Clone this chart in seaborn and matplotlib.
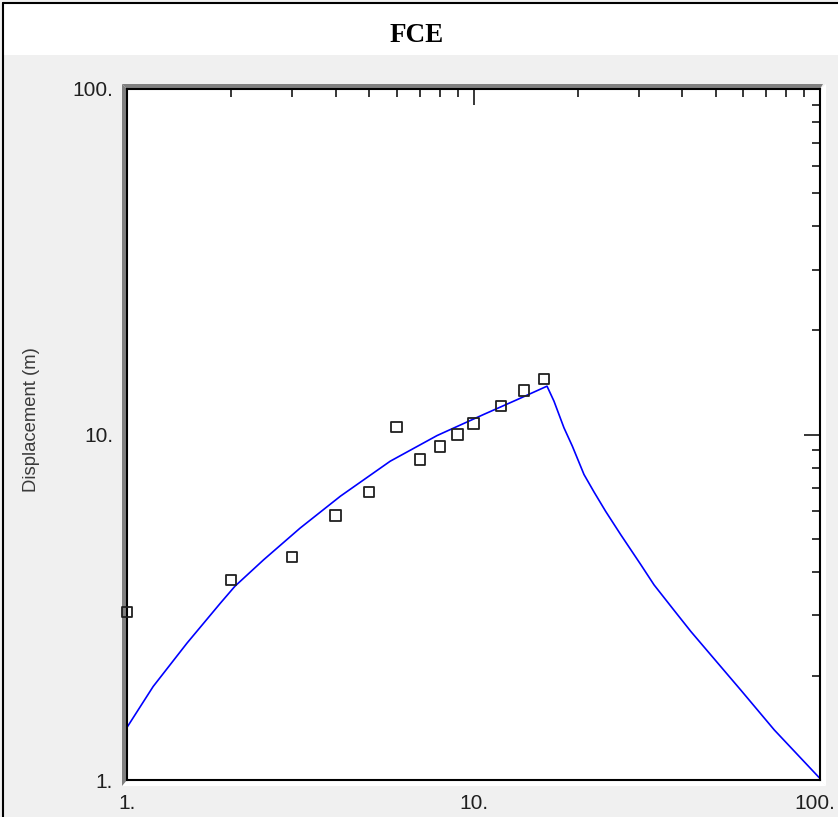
import matplotlib
matplotlib.use('Agg')
import matplotlib.pyplot as plt
import matplotlib.ticker as mticker
import matplotlib.transforms as mtransforms
from matplotlib.patches import Polygon
from matplotlib.lines import Line2D
import pandas as pd
import seaborn as sns

# === DATA ===
period_obs = [1, 2, 3, 4, 5, 6, 7, 8, 9, 10, 12, 14, 16]
disp_obs = [3.07, 3.80, 4.43, 5.83, 6.83, 10.5, 8.46, 9.23, 10.0, 10.76, 12.1, 13.4, 14.5]

period_fit = [1.0, 1.19, 1.49, 1.86, 2.05, 2.48, 3.16, 4.13, 5.75, 7.85, 10.7, 13.4, 16.3,
              17.07, 18.24, 19.29, 20.84, 22.27, 24.07, 26.6, 30.4, 33.2, 37.9, 42.4,
              47.9, 59.1, 73.8, 100.0]
disp_fit = [1.42, 1.865, 2.49, 3.25, 3.64, 4.34, 5.36, 6.63, 8.37, 9.93, 11.43, 12.63, 13.8,
            12.49, 10.46, 9.25, 7.66, 6.82, 5.99, 5.13, 4.20, 3.67, 3.10, 2.69,
            2.33, 1.82, 1.396, 1.01]

TITLE = 'FCE'
YLABEL = 'Displacement (m)'

# === CONFIG ===
W, H = 838, 817
DPI = 100
BG_GRAY = '#f0f0f0'
BEVEL_GRAY = '#808080'
LINE_BLUE = '#0000ff'
TEXT_DARK = '#202020'

sns.set_style('white')
plt.rcParams['font.family'] = ['Liberation Sans', 'DejaVu Sans']

fig = plt.figure(figsize=(W / DPI, H / DPI), dpi=DPI, facecolor=BG_GRAY)


def px(x, y):
    return (x / W, 1 - y / H)


def poly(points, color):
    fig.patches.append(Polygon([px(*p) for p in points], closed=True,
                               transform=fig.transFigure, facecolor=color,
                               edgecolor='none', zorder=-1))


# window header and frame
poly([(4, 4), (W, 4), (W, 55), (4, 55)], 'white')
fig.lines.append(Line2D([3 / W, 3 / W], [0, 1 - 3 / H], transform=fig.transFigure,
                        color='black', linewidth=1.5))
fig.lines.append(Line2D([3 / W, 1], [1 - 3 / H, 1 - 3 / H], transform=fig.transFigure,
                        color='black', linewidth=1.5))

# 3D bevel around the plot area
poly([(820, 89), (826, 84), (826, 786), (820, 780)], 'white')
poly([(127, 780), (820, 780), (826, 786), (122, 786)], 'white')
poly([(122, 84), (823, 84), (820, 89), (127, 89)], BEVEL_GRAY)
poly([(122, 84), (127, 89), (127, 780), (122, 786)], BEVEL_GRAY)

fig.text(417 / W, 1 - 35 / H, TITLE, ha='center', va='center',
         family='Liberation Serif', fontweight='bold', fontsize=19.5, color='black')

ax = fig.add_axes([127 / W, 37 / H, 693 / W, 691 / H])
ax.set_facecolor('white')

fit_df = pd.DataFrame({'period': period_fit, 'disp': disp_fit})
obs_df = pd.DataFrame({'period': period_obs, 'disp': disp_obs})

sns.lineplot(data=fit_df, x='period', y='disp', color=LINE_BLUE, linewidth=1.2,
             estimator=None, ax=ax, zorder=2)
sns.scatterplot(data=obs_df, x='period', y='disp', marker='s', s=55,
                facecolor='none', edgecolor='#202020', linewidth=1.3, ax=ax,
                zorder=3, clip_on=False)

ax.set_xscale('log')
ax.set_yscale('log')
ax.set_xlim(1, 100)
ax.set_ylim(1, 100)
ax.set_xlabel('')
ax.set_ylabel('')

fmt = mticker.FuncFormatter(lambda v, pos: f'{int(round(v))}.')
for axis in (ax.xaxis, ax.yaxis):
    axis.set_major_locator(mticker.FixedLocator([1, 10, 100]))
    axis.set_minor_locator(mticker.LogLocator(base=10, subs=range(2, 10)))
    axis.set_major_formatter(fmt)
    axis.set_minor_formatter(mticker.NullFormatter())

ax.tick_params(which='both', direction='in', top=True, right=True,
               color='black', labelsize=15, labelcolor=TEXT_DARK, pad=10)
ax.tick_params(which='major', length=11.5, width=1.1)
ax.tick_params(which='minor', length=5.8, width=1.1)

for s in ax.spines.values():
    s.set_visible(True)
    s.set_color('black')
    s.set_linewidth(1.5)

# nudge the last x label so it stays inside the window edge
last = ax.xaxis.get_major_ticks(3)[-1].label1
last.set_transform(last.get_transform() +
                   mtransforms.ScaledTranslation(-5 / DPI, 0, fig.dpi_scale_trans))

fig.text(32 / W, 1 - 420 / H, YLABEL, rotation=90, ha='center', va='center',
         fontsize=13.3, color='#3a3a3a')

fig.savefig('out.png', dpi=DPI, facecolor=BG_GRAY)
